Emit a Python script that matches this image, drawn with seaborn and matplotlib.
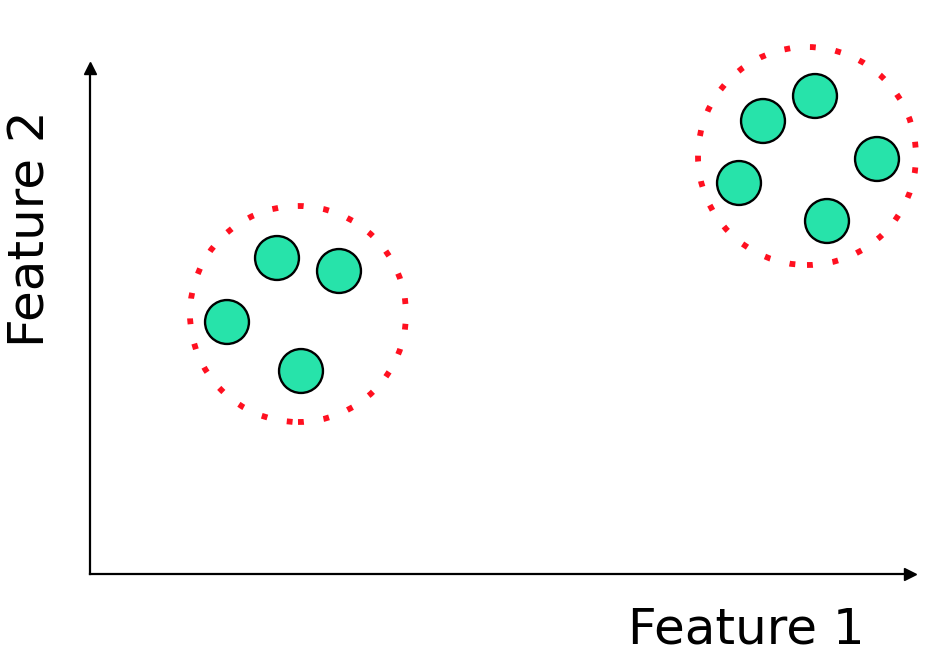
import matplotlib
matplotlib.use("Agg")
import matplotlib.pyplot as plt
from matplotlib.patches import Circle
import seaborn as sns
import pandas as pd

# point positions (axis units ~ pixels from the origin)
feature1 = [137, 187, 249, 211, 649, 673, 725, 787, 737]
feature2 = [252, 316, 303, 203, 391, 453, 478, 415, 353]
cluster = ["A", "A", "A", "A", "B", "B", "B", "B", "B"]

# dotted outlines around each cluster
ring_x = [208, 717]
ring_y = [260, 418]
ring_r = [108, 109]

df = pd.DataFrame({"Feature 1": feature1, "Feature 2": feature2, "cluster": cluster})

sns.set_style("white")
plt.rcParams['font.family'] = ['DejaVu Sans']
plt.rcParams['text.color'] = 'black'

fig = plt.figure(figsize=(9.34, 6.56), dpi=100)
ax = fig.add_axes([90 / 934, (656 - 574) / 656, (910 - 90) / 934, (574 - 68) / 656])

sns.scatterplot(data=df, x="Feature 1", y="Feature 2", hue="cluster",
                palette=["#27e3aa", "#27e3aa"], s=1000, edgecolor="black",
                linewidth=1.7, legend=False, ax=ax, zorder=3)

for cx, cy, r in zip(ring_x, ring_y, ring_r):
    ax.add_patch(Circle((cx, cy), r, fill=False, edgecolor="#ff1020",
                        linewidth=4.2, linestyle=(0, (1, 3.4)), zorder=2,
                        clip_on=False))

ax.set_xlim(0, 820)
ax.set_ylim(0, 506)
ax.set_xticks([])
ax.set_yticks([])
ax.set_xlabel("")
ax.set_ylabel("")
sns.despine(ax=ax)
for side in ["left", "bottom"]:
    ax.spines[side].set_linewidth(1.6)
    ax.spines[side].set_color("black")

# arrow heads at the ends of the axes
ax.plot(1, 0, ">k", markersize=9, transform=ax.get_yaxis_transform(), clip_on=False)
ax.plot(0, 1, "^k", markersize=9, transform=ax.get_xaxis_transform(), clip_on=False)

fig.text(865 / 934, 1 - 643 / 656, "Feature 1", fontsize=36, ha="right",
         va="baseline", color="black")
fig.text(31 / 934, 1 - 229 / 656, "Feature 2", fontsize=36, rotation=90,
         ha="center", va="center", color="black")

fig.savefig("out.png", dpi=100)
